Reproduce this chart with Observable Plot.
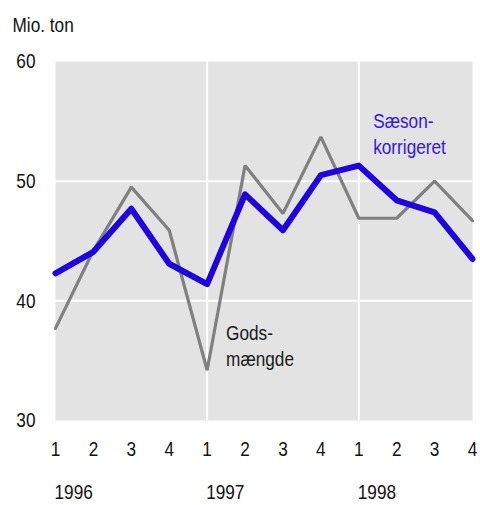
<!DOCTYPE html>
<html>
<head>
<meta charset="utf-8">
<script src="https://cdn.jsdelivr.net/npm/d3@7"></script>
<script src="https://cdn.jsdelivr.net/npm/@observablehq/plot@0.6"></script>
<style>
  html, body { margin: 0; padding: 0; background: #fff; }
  #chart svg { display: block; }
</style>
</head>
<body>
<div id="chart"></div>
<script>
const quarters = ["1","2","3","4","1","2","3","4","1","2","3","4"];
const years = ["1996", "1997", "1998"];
const yearStart = [0, 4, 8];
const godsmaengde = [37.7, 44.2, 49.5, 45.9, 34.2, 51.3, 47.3, 53.7, 46.9, 46.9, 50.0, 46.7];
const saesonkorrigeret = [42.3, 44.1, 47.7, 43.1, 41.4, 48.9, 45.9, 50.5, 51.3, 48.4, 47.4, 43.5];
const yTicks = [30, 40, 50, 60];

const gods = godsmaengde.map((v, i) => ({i, v}));
const saeson = saesonkorrigeret.map((v, i) => ({i, v}));
const yearsData = years.map((y, k) => ({y, i: yearStart[k]}));

const font = "'Liberation Sans Narrow', 'Arial Narrow', 'Liberation Sans', sans-serif";
const fs = 21;

const chart = Plot.plot({
  width: 480,
  height: 505,
  marginLeft: 55,
  marginRight: 8,
  marginTop: 61,
  marginBottom: 85,
  style: {fontFamily: font, fontSize: fs + "px", color: "#111", background: "white", overflow: "visible"},
  x: {domain: [0, 11], axis: null},
  y: {domain: [30, 60], axis: null},
  marks: [
    Plot.frame({fill: "#e3e3e3", stroke: null}),
    Plot.ruleY([40, 50], {stroke: "white", strokeWidth: 2}),
    Plot.ruleX([4, 8], {stroke: "white", strokeWidth: 2}),
    Plot.axisY({ticks: yTicks, tickSize: 0, tickPadding: 20, fontSize: fs, label: null}),
    Plot.axisX({ticks: d3.range(12), tickFormat: i => quarters[i], tickSize: 0, tickPadding: 21, fontSize: fs, label: null}),
    Plot.text(yearsData, {x: "i", text: "y", frameAnchor: "bottom", textAnchor: "start", lineAnchor: "top", dy: 64, dx: -1, fontSize: fs, fill: "#111"}),
    Plot.text(["Mio. ton"], {frameAnchor: "top-left", textAnchor: "start", lineAnchor: "bottom", dx: -43, dy: -30, fontSize: fs, fill: "#111"}),
    Plot.line(gods, {x: "i", y: "v", stroke: "#808080", strokeWidth: 3.2, strokeLinejoin: "miter"}),
    Plot.line(saeson, {x: "i", y: "v", stroke: "#2000e0", strokeWidth: 6, strokeLinejoin: "round"}),
    Plot.text(["Sæson-\nkorrigeret"], {x: [8.38], y: [56.0], textAnchor: "start", lineAnchor: "top", lineHeight: 1.25, fontSize: fs, fill: "#3318e0"}),
    Plot.text(["Gods-\nmængde"], {x: [4.5], y: [38.3], textAnchor: "start", lineAnchor: "top", lineHeight: 1.25, fontSize: fs, fill: "#1a1a1a"})
  ]
});
document.getElementById("chart").appendChild(chart);
// emulate a narrow (condensed) typeface: compress each text horizontally about its anchor
chart.querySelectorAll("text").forEach(t => {
  const tr = t.getAttribute("transform") || "";
  t.setAttribute("transform", (tr + " scale(0.82,1)").trim());
});
</script>
</body>
</html>
